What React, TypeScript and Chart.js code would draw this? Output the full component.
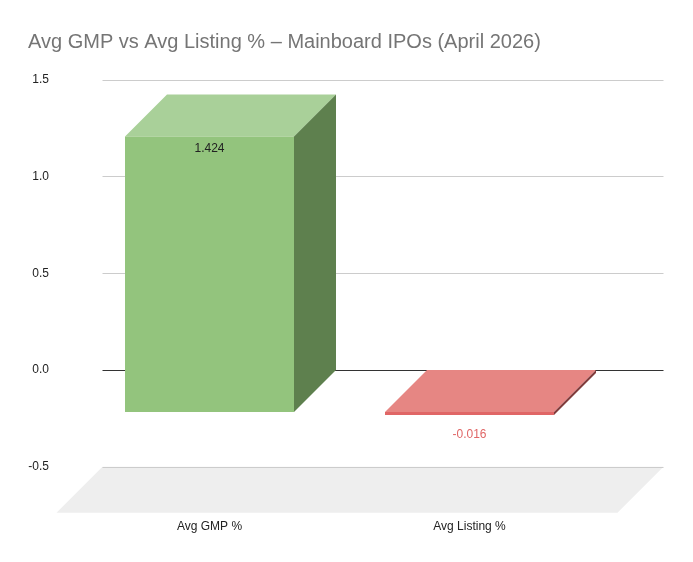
import React, { useEffect, useRef } from 'react';
import { Chart, registerables } from 'chart.js';

Chart.register(...registerables);

// data
const categories = ['Avg GMP %', 'Avg Listing %'];
const values = [1.424, -0.016];
const yMin = -0.5;
const yMax = 1.5;
const yStep = 0.5;

const frontColors = ['#93c47d', '#e06666'];
const topColors = ['#a9d099', '#e68683'];
const sideColors = ['#5e804e', '#803b3b'];
const labelColors = ['#222222', '#e06666'];

const FONT = '"Liberation Sans", Arial, sans-serif';

// 3d depth of the bars and of the floor
const DX = -42;
const DY = 42;
const FLOOR_D = 46;

const depthPlugin = {
    id: 'depth3d',
    beforeDatasetsDraw(chart: any) {
        const { ctx, chartArea } = chart;
        const y = chart.scales.y;
        const gl = chartArea.left - 19;
        const gr = chartArea.right + 22;

        // floor
        const fy = y.getPixelForValue(yMin);
        ctx.save();
        ctx.fillStyle = '#eeeeee';
        ctx.beginPath();
        ctx.moveTo(gl, fy);
        ctx.lineTo(gr, fy);
        ctx.lineTo(gr - FLOOR_D, fy + FLOOR_D);
        ctx.lineTo(gl - FLOOR_D, fy + FLOOR_D);
        ctx.closePath();
        ctx.fill();

        // back wall gridlines
        y.ticks.forEach((t: any) => {
            const py = Math.round(y.getPixelForValue(t.value)) + 0.5;
            ctx.strokeStyle = t.value === 0 ? '#333333' : '#cccccc';
            ctx.lineWidth = 1;
            ctx.beginPath();
            ctx.moveTo(gl, py);
            ctx.lineTo(gr, py);
            ctx.stroke();
        });

        // top and side faces
        const meta = chart.getDatasetMeta(0);
        meta.data.forEach((el: any, i: number) => {
            const l = el.x - el.width / 2;
            const r = el.x + el.width / 2;
            const top = Math.min(el.y, el.base);
            const bot = Math.max(el.y, el.base);
            ctx.fillStyle = topColors[i];
            ctx.beginPath();
            ctx.moveTo(l, top);
            ctx.lineTo(r, top);
            ctx.lineTo(r + DX, top + DY);
            ctx.lineTo(l + DX, top + DY);
            ctx.closePath();
            ctx.fill();
            ctx.fillStyle = sideColors[i];
            ctx.beginPath();
            ctx.moveTo(r, top);
            ctx.lineTo(r, bot);
            ctx.lineTo(r + DX, bot + DY);
            ctx.lineTo(r + DX, top + DY);
            ctx.closePath();
            ctx.fill();
        });
        ctx.restore();

        // front faces are drawn by chart.js, shifted forward
        ctx.save();
        ctx.translate(DX, DY);
    },
    afterDatasetsDraw(chart: any) {
        const { ctx } = chart;
        ctx.restore();
        const meta = chart.getDatasetMeta(0);
        ctx.save();
        ctx.font = `12px ${FONT}`;
        ctx.textAlign = 'center';
        ctx.textBaseline = 'middle';
        meta.data.forEach((el: any, i: number) => {
            const v = values[i];
            const top = Math.min(el.y, el.base) + DY;
            const bot = Math.max(el.y, el.base) + DY;
            ctx.fillStyle = labelColors[i];
            const ly = v >= 0 ? top + 12.5 : bot + 20;
            ctx.fillText(String(v), el.x + DX, ly);
        });
        ctx.restore();
    },
};

export default function App() {
    const canvasRef = useRef<HTMLCanvasElement>(null);

    useEffect(() => {
        document.body.style.margin = '0';
        if (!canvasRef.current) return;
        const chart = new Chart(canvasRef.current, {
            type: 'bar',
            data: {
                labels: categories,
                datasets: [{
                    data: values,
                    backgroundColor: frontColors,
                    borderWidth: 0,
                    barPercentage: 0.65,
                    categoryPercentage: 1,
                    clip: false as any,
                }],
            },
            options: {
                responsive: false,
                animation: false,
                layout: { autoPadding: false, padding: { left: 28, right: 51.5, top: 0, bottom: 0 } },
                plugins: {
                    legend: { display: false },
                    tooltip: { enabled: false },
                    title: {
                        display: true,
                        text: 'Avg GMP vs Avg Listing % – Mainboard IPOs (April 2026)',
                        align: 'start',
                        color: '#757575',
                        font: { family: FONT, size: 20, weight: 'normal' },
                        padding: { top: 28, bottom: 25.3 },
                    },
                },
                scales: {
                    x: {
                        grid: { display: false, drawTicks: false },
                        border: { display: false },
                        ticks: {
                            color: '#222222',
                            font: { family: FONT, size: 12 },
                            padding: 53,
                            labelOffset: DX,
                            maxRotation: 0,
                        },
                        afterFit: (axis: any) => { axis.height = 95.3; },
                    },
                    y: {
                        min: yMin,
                        max: yMax,
                        grid: { display: false, drawTicks: false },
                        border: { display: false },
                        ticks: {
                            stepSize: yStep,
                            color: '#222222',
                            font: { family: FONT, size: 12 },
                            padding: 72.5,
                            callback: (v: any) => Number(v).toFixed(1),
                        },
                        afterFit: (axis: any) => { axis.width = 93.5; },
                    },
                },
            },
            plugins: [depthPlugin],
        });
        return () => chart.destroy();
    }, []);

    return (
        <div style={{ width: 693, height: 562, background: '#ffffff' }}>
            <canvas ref={canvasRef} width={693} height={562} />
        </div>
    );
}
